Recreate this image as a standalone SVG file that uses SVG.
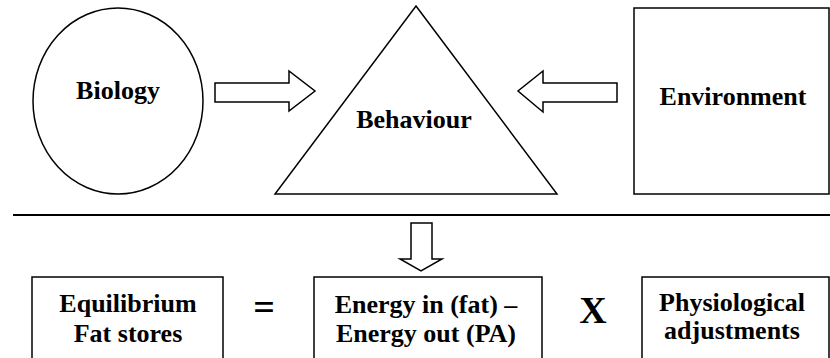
<svg xmlns="http://www.w3.org/2000/svg" width="830" height="358" viewBox="0 0 830 358">
<style>
.shape{fill:#fff;stroke:#000;stroke-width:1.5}
.arrow{fill:#fff;stroke:#000;stroke-width:1.5;stroke-linejoin:miter}
text{font-family:'Liberation Serif','Tinos','Times New Roman',Times,'Noto Serif','DejaVu Serif',serif;font-weight:700;fill:#000;text-anchor:middle}
.lbl{font-size:26px}
.op{font-size:38px}
</style>
<rect width="830" height="358" fill="#fff"/>
<g id="biology">
<ellipse class="shape" cx="118" cy="101" rx="85" ry="93"/>
<text class="lbl" x="118" y="99">Biology</text>
</g>
<g id="behaviour">
<polygon class="shape" points="416,6 557,194 275,194"/>
<text class="lbl" x="414" y="128">Behaviour</text>
</g>
<g id="environment">
<rect class="shape" x="634" y="8" width="195" height="186"/>
<text class="lbl" x="733" y="105">Environment</text>
</g>
<g id="divider">
<line x1="13" y1="215" x2="830" y2="215" stroke="#000" stroke-width="2"/>
</g>
<g id="equilibrium">
<rect class="shape" x="32" y="277" width="191" height="90"/>
<text class="lbl" x="128" y="312">Equilibrium</text>
<text class="lbl" x="128" y="342">Fat stores</text>
</g>
<g id="equals">
<text class="op" x="264" y="320">=</text>
</g>
<g id="energy">
<rect class="shape" x="314" y="277" width="228" height="90"/>
<text class="lbl" x="426" y="313">Energy in (fat) –</text>
<text class="lbl" x="426" y="342">Energy out (PA)</text>
</g>
<g id="times">
<text class="op" x="593" y="323">X</text>
</g>
<g id="physiological">
<rect class="shape" x="642" y="277" width="187" height="90"/>
<text class="lbl" x="732" y="311">Physiological</text>
<text class="lbl" x="732" y="339">adjustments</text>
</g>
<g id="connectors">
<polygon class="arrow" points="215,83 289,83 289,71 315,91 289,111 289,102 215,102"/>
<polygon class="arrow" points="617,83 543,83 543,71 518,91 543,112 543,102 617,102"/>
<polygon class="arrow" points="411,223 432,223 432,259 442,259 421,271 400,259 411,259"/>
</g>
</svg>
